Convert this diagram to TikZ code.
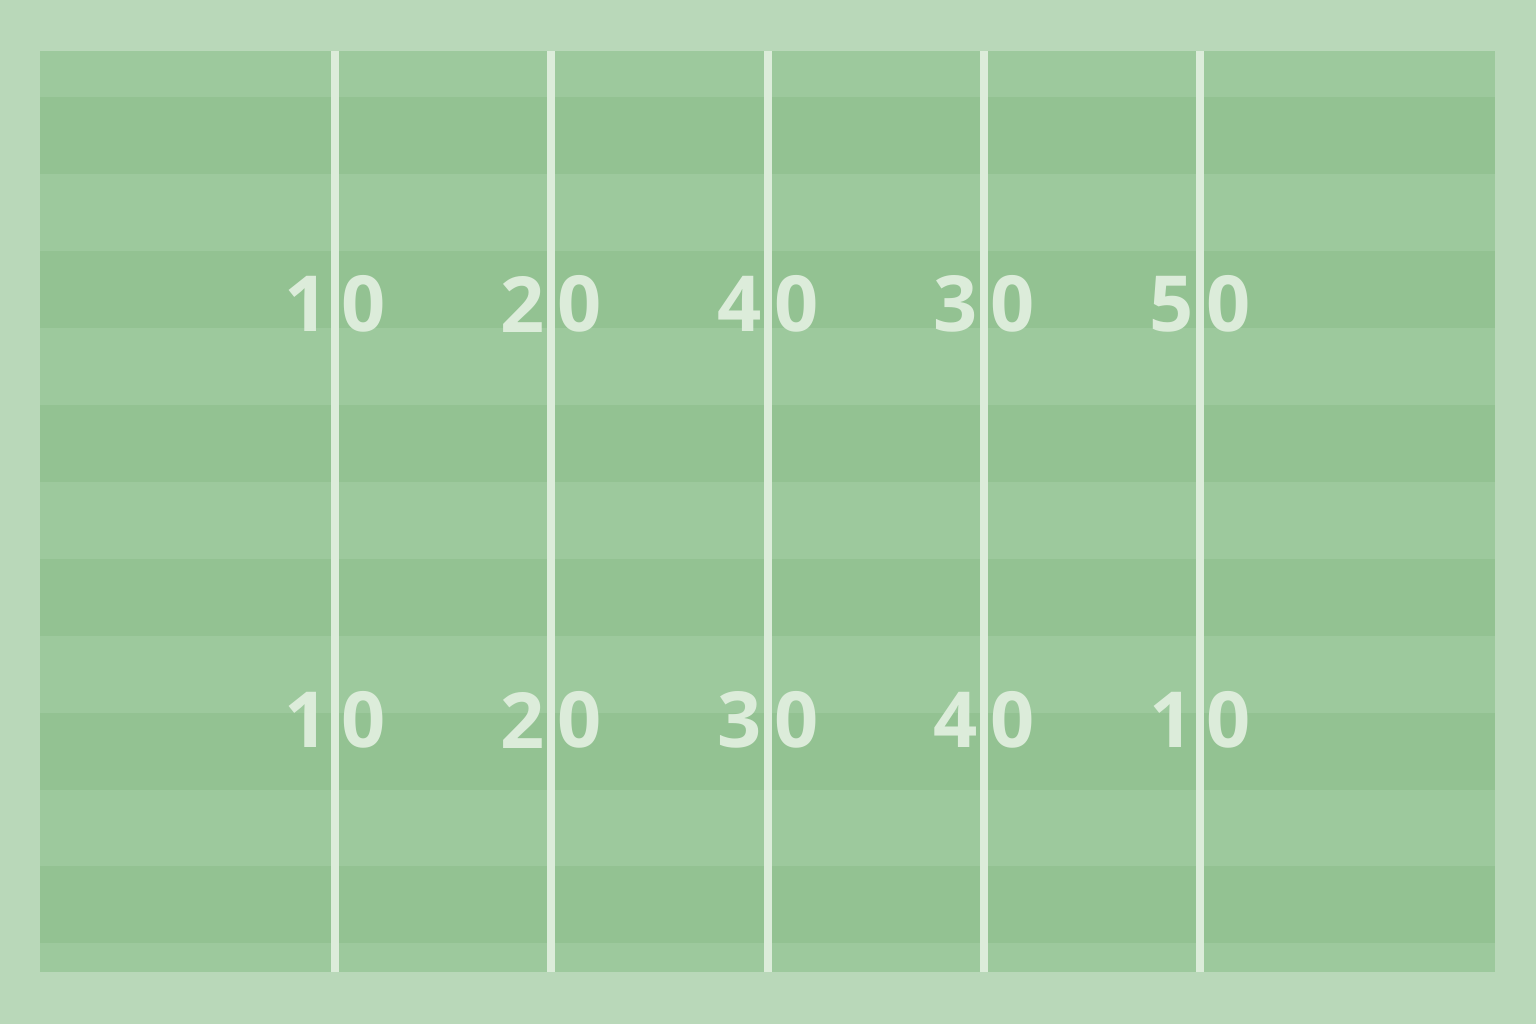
\documentclass[tikz,border=0pt]{standalone}
\usepackage{fontspec}
\setmainfont{Open Sans}
\usetikzlibrary{positioning}
\definecolor{turfedge}{HTML}{B9D8B9}
\definecolor{turflight}{HTML}{9DC99D}
\definecolor{turfdark}{HTML}{93C292}
\definecolor{chalk}{HTML}{DCECDA}
\tikzset{
  yardline/.style={draw=chalk,line width=2pt},
  yardnum/.style={text=chalk,font=\fontsize{22}{22}\selectfont\bfseries,inner sep=0pt},
}

\begin{document}
\begin{tikzpicture}[x=0.01cm,y=-0.01cm]
  \fill[turfedge] (0,0) rectangle (1536,1024);
  \fill[turflight] (40,51) rectangle (1495,972);
  \foreach \y in {97,251,405,559,713,866}
    \fill[turfdark] (40,\y) rectangle (1495,\y+77);

  % yard lines, numbers split round each line
  \foreach \x/\ta/\tb/\ba/\bb [count=\i] in {335/1/0/1/0,551/2/0/2/0,768/4/0/3/0,984/3/0/4/0,1200/5/0/1/0} {
    \coordinate (goal\i) at (\x,51);
    \coordinate (end\i) at (\x,972);
    \draw[yardline] (goal\i) -- (end\i);
    \node[yardnum,anchor=east] (upl\i) at (\x-6,304) {\ta};
    \node[yardnum,anchor=west] (upr\i) at (\x+6,304) {\tb};
    \node[yardnum,anchor=east] (dnl\i) at (\x-6,720) {\ba};
    \node[yardnum,anchor=west] (dnr\i) at (\x+6,720) {\bb};
  }
\end{tikzpicture}
\end{document}
